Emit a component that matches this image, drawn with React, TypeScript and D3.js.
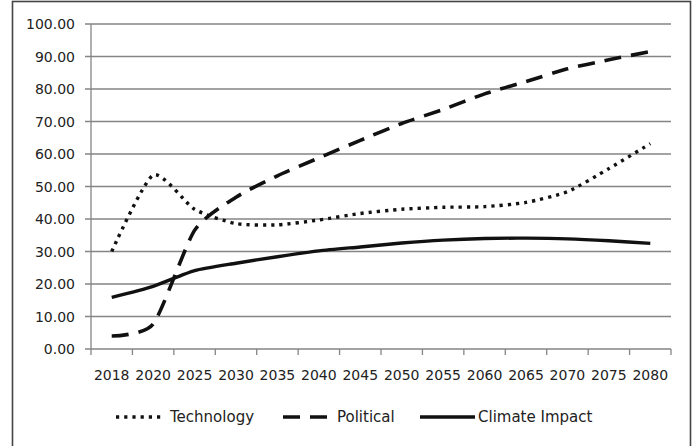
import { useEffect, useRef } from "react";
import * as d3 from "d3";

const years = ["2018", "2020", "2025", "2030", "2035", "2040", "2045", "2050", "2055", "2060", "2065", "2070", "2075", "2080"];
const technology = [30, 53.5, 43, 38.6, 38.2, 39.7, 41.7, 43, 43.6, 43.8, 45.1, 48.4, 55.5, 63.2];
const political = [4, 7.7, 36.5, 46.7, 53.3, 58.8, 64.2, 69.4, 73.7, 78.5, 82.3, 86.2, 89, 91.5];
const climateImpact = [15.9, 19.3, 24.1, 26.4, 28.4, 30.2, 31.4, 32.6, 33.5, 34, 34.1, 33.9, 33.3, 32.5];
const yTicks = [0, 10, 20, 30, 40, 50, 60, 70, 80, 90, 100];

const seriesList = [
  { name: "Technology", values: technology, dash: "3.2 5", width: 3.4 },
  { name: "Political", values: political, dash: "17 10", width: 3.6 },
  { name: "Climate Impact", values: climateImpact, dash: null, width: 3.4 },
];

const App = () => {
  const svgRef = useRef<SVGSVGElement | null>(null);

  useEffect(() => {
    const svg = d3.select(svgRef.current);
    svg.selectAll("*").remove();

    const width = 696;
    const height = 446;
    const margin = { top: 24, right: 25, bottom: 97, left: 91 };
    const font = "'DejaVu Sans', Verdana, sans-serif";

    svg.attr("width", width).attr("height", height);
    svg.append("rect").attr("width", width).attr("height", height).attr("fill", "#fff");

    // outer border
    svg.append("rect")
      .attr("x", 12.5).attr("y", 1.5)
      .attr("width", 678).attr("height", 450)
      .attr("fill", "none").attr("stroke", "#444").attr("stroke-width", 1.6);

    const x = d3.scaleBand<string>()
      .domain(years)
      .range([margin.left, width - margin.right])
      .padding(0);
    const y = d3.scaleLinear()
      .domain([0, 100])
      .range([height - margin.bottom, margin.top]);

    const cx = (i: number) => (x(years[i]) ?? 0) + x.bandwidth() / 2;

    // gridlines + y labels
    const gy = svg.append("g");
    yTicks.forEach(t => {
      gy.append("line")
        .attr("x1", margin.left - 6).attr("x2", width - margin.right)
        .attr("y1", y(t)).attr("y2", y(t))
        .attr("stroke", "#858585").attr("stroke-width", 1.3);
      gy.append("text")
        .attr("x", margin.left - 16).attr("y", y(t))
        .attr("dy", "0.36em")
        .attr("text-anchor", "end")
        .attr("font-family", font).attr("font-size", 14)
        .attr("fill", "#222")
        .text(t.toFixed(2));
    });

    // y axis line
    svg.append("line")
      .attr("x1", margin.left).attr("x2", margin.left)
      .attr("y1", y(100)).attr("y2", y(0))
      .attr("stroke", "#858585").attr("stroke-width", 1.3);

    // x ticks at band edges
    const edges = [...years.map(c => x(c) ?? 0), width - margin.right];
    edges.forEach(e => {
      svg.append("line")
        .attr("x1", e).attr("x2", e)
        .attr("y1", y(0)).attr("y2", y(0) + 6)
        .attr("stroke", "#858585").attr("stroke-width", 1.3);
    });
    years.forEach((c, i) => {
      svg.append("text")
        .attr("x", cx(i)).attr("y", y(0) + 31)
        .attr("text-anchor", "middle")
        .attr("font-family", font).attr("font-size", 14)
        .attr("fill", "#222")
        .text(c);
    });

    // series
    const line = d3.line<number>()
      .x((_, i) => cx(i))
      .y(d => y(d))
      .curve(d3.curveCardinal.tension(0.35));

    seriesList.forEach(s => {
      const p = svg.append("path")
        .attr("d", line(s.values))
        .attr("fill", "none")
        .attr("stroke", "#111")
        .attr("stroke-width", s.width)
        .attr("stroke-linejoin", "round");
      if (s.dash) p.attr("stroke-dasharray", s.dash);
    });

    // legend
    const legendY = 417;
    const legendItems = [
      { s: seriesList[0], x0: 116, x1: 161, tx: 170 },
      { s: seriesList[1], x0: 283, x1: 330, tx: 337 },
      { s: seriesList[2], x0: 420, x1: 475, tx: 478 },
    ];
    legendItems.forEach(li => {
      const l = svg.append("line")
        .attr("x1", li.x0).attr("x2", li.x1)
        .attr("y1", legendY).attr("y2", legendY)
        .attr("stroke", "#111")
        .attr("stroke-width", li.s.width);
      if (li.s.dash) l.attr("stroke-dasharray", li.s.dash);
      svg.append("text")
        .attr("x", li.tx).attr("y", legendY)
        .attr("dy", "0.36em")
        .attr("font-family", font).attr("font-size", 15)
        .attr("fill", "#222")
        .text(li.s.name);
    });
  }, []);

  return (
    <svg ref={svgRef} style={{ position: "absolute", left: 0, top: 0, display: "block" }}></svg>
  );
};

export default App;
